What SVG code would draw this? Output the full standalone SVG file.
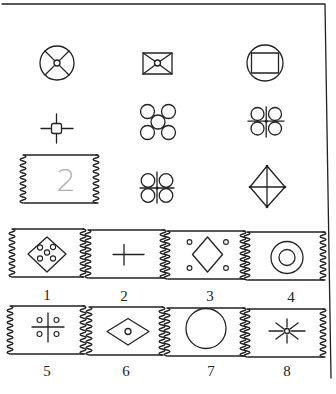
<svg xmlns="http://www.w3.org/2000/svg" width="336" height="394" viewBox="0 0 336 394">
<style>
.s{fill:none;stroke:#222;stroke-width:1.3;stroke-linecap:round;stroke-linejoin:round}
.t{stroke-width:1.1}
.f{fill:#222;stroke:none}
.lbl{font-family:"Liberation Serif",serif;font-size:15px;fill:#222;text-anchor:middle}
</style>
<defs>
<path id="zz" d="M0,0 q6,1.5 0,3 t0,3 t0,3 t0,3 t0,3 t0,3 t0,3 t0,3 t0,3 t0,3 t0,3 t0,3 t0,3 t0,3 t0,3 t0,3"/>
</defs>
<rect width="336" height="394" fill="#fff"/>
<g id="frame" class="s">
<path d="M2,4 H325 L331,378"/>
</g>

<g id="sym-circle-x" class="s">
<circle cx="57" cy="63" r="17"/>
<circle cx="57" cy="63" r="3"/>
<path d="M45,51 L54.9,60.9 M69,51 L59.1,60.9 M45,75 L54.9,65.1 M69,75 L59.1,65.1"/>
</g>

<g id="sym-envelope" class="s">
<rect x="143" y="53" width="29" height="21"/>
<circle cx="157.5" cy="63" r="3"/>
<path d="M143,53 L155,61.3 M172,53 L160,61.3 M143,74 L155.2,65 M172,74 L159.8,65"/>
</g>

<g id="sym-circle-rect" class="s">
<circle cx="265" cy="63" r="18"/>
<rect x="251.5" y="53" width="27" height="20"/>
</g>

<g id="sym-cross-square" class="s">
<rect x="51.5" y="123.5" width="10" height="10" rx="2"/>
<path d="M41,128.5 H51.5 M61.5,128.5 H73 M56.5,114 V123.5 M56.5,133.5 V143"/>
</g>

<g id="sym-five-circles" class="s">
<circle cx="147.5" cy="111.5" r="7"/>
<circle cx="168.5" cy="111.5" r="7"/>
<circle cx="158" cy="122" r="7"/>
<circle cx="147.5" cy="132.5" r="7"/>
<circle cx="168.5" cy="132.5" r="7"/>
</g>

<g id="sym-four-split-a" class="s">
<circle cx="257.5" cy="114" r="6.5"/>
<circle cx="275" cy="114" r="6.5"/>
<circle cx="257.5" cy="128.5" r="6.5"/>
<circle cx="275" cy="128.5" r="6.5"/>
<path d="M248,121.2 H284 M266.2,107 V137"/>
<circle class="f" cx="266.2" cy="121.2" r="1.6"/>
</g>

<g id="panel-blank" class="s">
<path d="M24,155 H98 M24,203 H98"/>
<use href="#zz" x="23" y="155"/>
<use href="#zz" x="96" y="155"/>
<text x="66" y="191" style="font-family:'DejaVu Sans',sans-serif;font-size:31px;fill:#b0b0b0;stroke:none;text-anchor:middle;font-weight:300">2</text>
</g>

<g id="sym-four-split-b" class="s">
<circle cx="148" cy="180.5" r="6.8"/>
<circle cx="166" cy="180.5" r="6.8"/>
<circle cx="148" cy="195.5" r="6.8"/>
<circle cx="166" cy="195.5" r="6.8"/>
<path d="M140,188 H174 M157,172 V203"/>
<circle class="f" cx="157" cy="188" r="1.6"/>
</g>

<g id="sym-diamond-cross" class="s">
<path d="M267,166 L285,187 L267,207 L250,187 Z M267,166 V207 M250,187 H285"/>
<circle class="f" cx="267" cy="166" r="1.3"/>
<circle class="f" cx="267" cy="207" r="1.3"/>
<circle class="f" cx="250" cy="187" r="1.3"/>
<circle class="f" cx="285" cy="187" r="1.3"/>
</g>

<g id="panel-1" class="s">
<path d="M13,229 H84 M13,277 H84"/>
<use href="#zz" x="12" y="229"/>
<use href="#zz" x="83" y="229"/>
<path d="M47,237 L66,254 L47,272 L28,254 Z"/>
<circle class="t" cx="40" cy="247.5" r="2.6"/>
<circle class="t" cx="53" cy="247" r="2.6"/>
<circle class="t" cx="47" cy="252.5" r="2.6"/>
<circle class="t" cx="40" cy="258.5" r="2.6"/>
<circle class="t" cx="53" cy="258.5" r="2.6"/>
</g>
<text class="lbl" x="47" y="300">1</text>

<g id="panel-2" class="s">
<path d="M89,230 H165 M89,278 H165"/>
<use href="#zz" x="88" y="230"/>
<use href="#zz" x="163" y="230"/>
<path d="M113,254.5 H144 M124,244.5 V265"/>
</g>
<text class="lbl" x="124" y="301">2</text>

<g id="panel-3" class="s">
<path d="M168,231 H245 M168,279 H245"/>
<use href="#zz" x="167" y="231"/>
<use href="#zz" x="243" y="231"/>
<path d="M207.5,237 L222.5,254.5 L207.5,272 L192.5,254.5 Z"/>
<circle class="t" cx="189.5" cy="242" r="2.4"/>
<circle class="t" cx="226" cy="242" r="2.4"/>
<circle class="t" cx="189.5" cy="268" r="2.4"/>
<circle class="t" cx="226" cy="268" r="2.4"/>
</g>
<text class="lbl" x="210" y="301">3</text>

<g id="panel-4" class="s">
<path d="M248,232 H325 M248,280 H325"/>
<use href="#zz" x="247" y="232"/>
<use href="#zz" x="323" y="232"/>
<circle cx="287" cy="257.5" r="16"/>
<circle cx="287" cy="257.5" r="8"/>
</g>
<text class="lbl" x="291" y="302">4</text>

<g id="panel-5" class="s">
<path d="M11,306 H85 M11,354 H85"/>
<use href="#zz" x="10" y="306"/>
<use href="#zz" x="83" y="306"/>
<path d="M32,327 H64 M48,313 V342"/>
<circle class="t" cx="39.5" cy="320" r="2.5"/>
<circle class="t" cx="56.5" cy="320" r="2.5"/>
<circle class="t" cx="39.5" cy="334" r="2.5"/>
<circle class="t" cx="56.5" cy="334" r="2.5"/>
</g>
<text class="lbl" x="47" y="376">5</text>

<g id="panel-6" class="s">
<path d="M90,307 H163 M90,355 H163"/>
<use href="#zz" x="89" y="307"/>
<use href="#zz" x="162" y="307"/>
<path d="M128,318.5 L149,331.5 L128,345 L107,331.5 Z"/>
<circle cx="128" cy="331.5" r="3"/>
</g>
<text class="lbl" x="126" y="376">6</text>

<g id="panel-7" class="s">
<path d="M168,308 H245 M168,356 H245"/>
<use href="#zz" x="167" y="308"/>
<use href="#zz" x="243" y="308"/>
<circle cx="206" cy="328.5" r="20"/>
</g>
<text class="lbl" x="211" y="376">7</text>

<g id="panel-8" class="s">
<path d="M248,309 H325 M248,357 H325"/>
<use href="#zz" x="247" y="309"/>
<use href="#zz" x="323" y="309"/>
<circle cx="287" cy="331" r="2.5"/>
<path d="M269,331 H283 M291,331 H305 M287,319 V327 M287,335 V343 M276,323 L284,329 M298,323 L290,329 M276,339 L284,333 M298,339 L290,333"/>
</g>
<text class="lbl" x="287" y="376">8</text>
</svg>
